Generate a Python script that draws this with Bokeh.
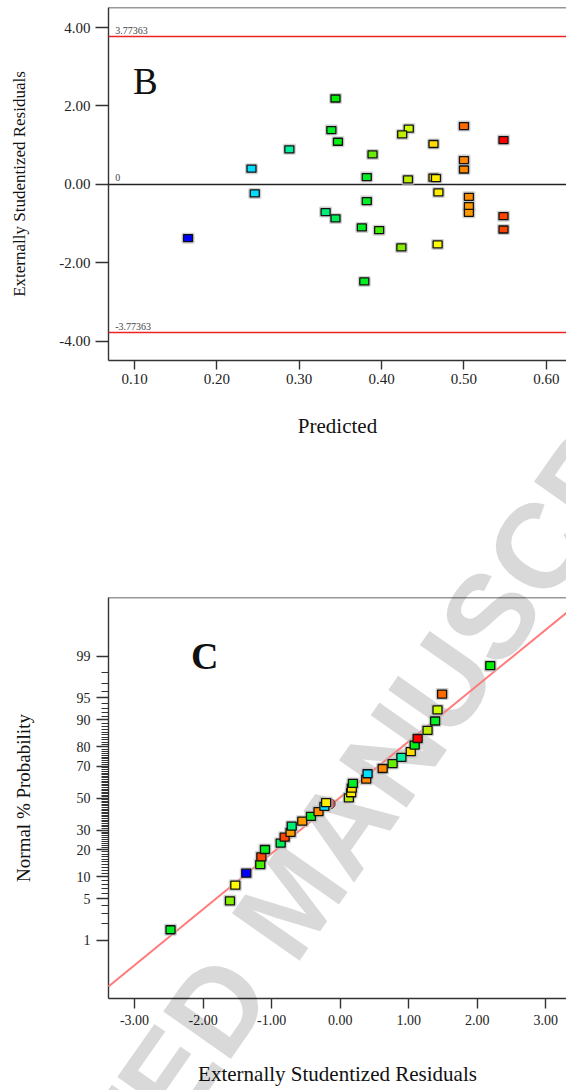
from statistics import NormalDist
import numpy as np
from bokeh.plotting import figure
from bokeh.layouts import column
from bokeh.core.properties import value
from bokeh.models import (Range1d, FixedTicker, PrintfTickFormatter,
                          CustomJSTickFormatter, Span, Label, ColumnDataSource)
from bokeh.embed import file_html
from bokeh.resources import INLINE

# ---------------- data ----------------
predicted = [0.344, 0.339, 0.347, 0.288, 0.389, 0.382, 0.433, 0.425, 0.463, 0.500,
             0.548, 0.500, 0.500, 0.432, 0.463, 0.466, 0.469, 0.506, 0.506, 0.506,
             0.548, 0.548, 0.382, 0.332, 0.344, 0.376, 0.397, 0.424, 0.468, 0.379,
             0.242, 0.246, 0.165]
residuals = [2.19, 1.385, 1.087, 0.893, 0.765, 0.186, 1.42, 1.275, 1.03, 1.487,
             1.13, 0.62, 0.38, 0.127, 0.17, 0.16, -0.205, -0.316, -0.553, -0.724,
             -0.81, -1.15, -0.426, -0.707, -0.868, -1.097, -1.166, -1.608, -1.53, -2.475,
             0.40, -0.23, -1.37]
point_colors = ["#00ee00", "#00ee22", "#00ee11", "#00f0a0", "#66ee00", "#00ee22",
                "#ccff00", "#bbee00", "#ffdd00", "#ff6a00", "#ff0000", "#ff8800",
                "#ff8800", "#bbee00", "#ffdd00", "#ffee00", "#ffee00", "#ff8c00",
                "#ff9900", "#ff9900", "#ff4400", "#ff4400", "#00ee22", "#00ee77",
                "#00ee55", "#00ee22", "#44ee00", "#88ee00", "#ffff00", "#00ee22",
                "#00ddff", "#00ddff", "#0000ff"]
limit_value = 3.77363
pred_ticks = [0.10, 0.20, 0.30, 0.40, 0.50, 0.60]
resid_ticks = [-4, -2, 0, 2, 4]

# normal probability (%) of the residuals, in ascending order of residual
normal_pct = [1.57, 4.67, 7.75, 11.0, 13.9, 16.9, 20.1, 23.1, 26.2, 28.8, 32.4,
              35.4, 38.3, 41.4, 44.7, 47.2, 50.3, 53.6, 56.6, 59.6, 62.3, 65.6,
              68.7, 71.5, 74.8, 77.7, 80.8, 83.6, 86.7, 89.7, 92.6, 95.6, 98.5]
prob_ticks = [1, 5, 10, 20, 30, 50, 70, 80, 90, 95, 99]
prob_minor = [v for v in range(2, 99) if v not in prob_ticks]
ext_ticks = [-3, -2, -1, 0, 1, 2, 3]
marker_resid = [-0.146]
marker_pct = [46.4]

SERIF = "Liberation Serif"
AX = "#333333"
nd = NormalDist()
zf = lambda p: nd.inv_cdf(p / 100.0)


def style_axis(ax, tick_out, lab_size, lab_standoff, title_size, title_standoff):
    ax.axis_line_color = AX
    ax.axis_line_width = 1.4
    ax.major_tick_line_color = AX
    ax.major_tick_line_width = 1.4
    ax.major_tick_in = 0
    ax.major_tick_out = tick_out
    ax.minor_tick_line_color = None
    ax.major_label_text_font = SERIF
    ax.major_label_text_font_size = lab_size
    ax.major_label_text_color = "#222222"
    ax.major_label_standoff = lab_standoff
    ax.axis_label_text_font = SERIF
    ax.axis_label_text_font_style = "normal"
    ax.axis_label_text_font_size = title_size
    ax.axis_label_text_color = "#111111"
    ax.axis_label_standoff = title_standoff


def watermark(p, x, y):
    p.text(x=[x], y=[y], text=["ACCEPTED MANUSCRIPT"], text_font=value("Liberation Sans"),
           text_font_size=value("120px"), text_font_style="bold", text_color="black",
           text_alpha=0.15, angle=55, angle_units="deg", text_align="center",
           text_baseline="middle", level="overlay")


# ---------------- plot B ----------------
p1 = figure(width=566, height=450, x_range=Range1d(0.0684, 0.6245),
            y_range=Range1d(-4.49, 4.51), output_backend="svg",
            toolbar_location=None, min_border_left=108, min_border_right=0,
            min_border_top=7, min_border_bottom=90,
            x_axis_label="Predicted", y_axis_label="Externally Studentized Residuals")
p1.outline_line_color = None
p1.grid.visible = False
p1.xaxis.ticker = FixedTicker(ticks=pred_ticks)
p1.xaxis.formatter = PrintfTickFormatter(format="%.2f")
p1.yaxis.ticker = FixedTicker(ticks=resid_ticks)
p1.yaxis.formatter = PrintfTickFormatter(format="%.2f")
style_axis(p1.xaxis[0], 9, "15px", 4, "21px", 27)
style_axis(p1.yaxis[0], 13, "15px", 5, "17px", 27)

watermark(p1, 0.2904, -18.23)
p1.add_layout(Span(location=4.51, dimension="width", line_color=AX, line_width=1.5))
p1.add_layout(Span(location=0, dimension="width", line_color="#222222", line_width=1.5))
for lv in (limit_value, -limit_value):
    p1.add_layout(Span(location=lv, dimension="width", line_color="#ee2222", line_width=1.5))
    p1.add_layout(Label(x=0.0765, y=lv, y_offset=2, text=f"{lv:.5f}", text_font=SERIF,
                        text_font_size="10px", text_color="#444444",
                        text_baseline="bottom"))
p1.add_layout(Label(x=0.0765, y=0, y_offset=3, text="0", text_font=SERIF,
                    text_font_size="10px", text_color="#444444", text_baseline="bottom"))
p1.add_layout(Label(x=0.098, y=2.62, text="B", text_font=SERIF, text_font_size="37px",
                    text_color="#111111", text_baseline="middle", text_align="left"))

src1 = ColumnDataSource(dict(x=predicted, y=residuals, c=point_colors))
p1.rect("x", "y", width=11, height=9, width_units="screen", height_units="screen",
        source=src1, fill_color=None, line_color="#bbbbbb", line_width=2, line_alpha=0.7,
        level="overlay")
p1.rect("x", "y", width=9, height=7, width_units="screen", height_units="screen",
        source=src1, fill_color="c", line_color="#111111", line_width=1.3,
        level="overlay")

# ---------------- plot C ----------------
order = np.argsort(residuals, kind="stable")
res_sorted = [residuals[i] for i in order]
col_sorted = [point_colors[i] for i in order]
z_pts = [zf(v) for v in normal_pct]

p2 = figure(width=566, height=640, x_range=Range1d(-3.38, 3.302),
            y_range=Range1d(-3.277, 3.286), output_backend="svg",
            toolbar_location=None, min_border_left=108, min_border_right=0,
            min_border_top=147, min_border_bottom=92,
            x_axis_label="Externally Studentized Residuals",
            y_axis_label="Normal % Probability")
p2.outline_line_color = None
p2.grid.visible = False
p2.xaxis.ticker = FixedTicker(ticks=ext_ticks)
p2.xaxis.formatter = PrintfTickFormatter(format="%.2f")
p2.yaxis.ticker = FixedTicker(ticks=[zf(v) for v in prob_ticks],
                              minor_ticks=[zf(v) for v in prob_minor])
p2.yaxis.formatter = CustomJSTickFormatter(code="""
const a = Math.abs(tick) / Math.SQRT2;
const t = 1 / (1 + 0.3275911 * a);
const y = 1 - (((((1.061405429 * t - 1.453152027) * t) + 1.421413741) * t
          - 0.284496736) * t + 0.254829592) * t * Math.exp(-a * a);
const erf = tick >= 0 ? y : -y;
return String(Math.round(50 * (1 + erf)));
""")
style_axis(p2.xaxis[0], 10, "14px", 6, "21px", 34)
style_axis(p2.yaxis[0], 12, "14px", 6, "19px", 40)
p2.yaxis.minor_tick_line_color = AX
p2.yaxis.minor_tick_line_width = 1
p2.yaxis.minor_tick_in = 0
p2.yaxis.minor_tick_out = 7

watermark(p2, -0.715, -1.656)
p2.add_layout(Span(location=3.286, dimension="width", line_color=AX, line_width=1.5))

mean = float(np.mean(residuals))
sd = float(np.std(residuals, ddof=1))
lx = [p2.x_range.start, p2.x_range.end]
p2.line(lx, [(v - mean) / sd for v in lx], line_color="#ff7a7a", line_width=2,
        level="overlay")

p2.scatter(marker_resid, [zf(v) for v in marker_pct], marker="circle", size=10,
           fill_color="#b85c5c", line_color="#6a3030", line_width=1, level="overlay")

src2 = ColumnDataSource(dict(x=res_sorted, y=z_pts, c=col_sorted))
p2.rect("x", "y", width=11, height=10, width_units="screen", height_units="screen",
        source=src2, fill_color=None, line_color="#bbbbbb", line_width=2, line_alpha=0.7,
        level="overlay")
p2.rect("x", "y", width=9, height=8, width_units="screen", height_units="screen",
        source=src2, fill_color="c", line_color="#111111", line_width=1.3,
        level="overlay")

p2.add_layout(Label(x=-2.175, y=zf(99), text="C", text_font=SERIF, text_font_size="38px",
                    text_font_style="bold", text_color="#111111",
                    text_baseline="middle", text_align="left"))

layout = column(p1, p2, spacing=0)
open("out.html", "w").write(file_html(layout, INLINE))
